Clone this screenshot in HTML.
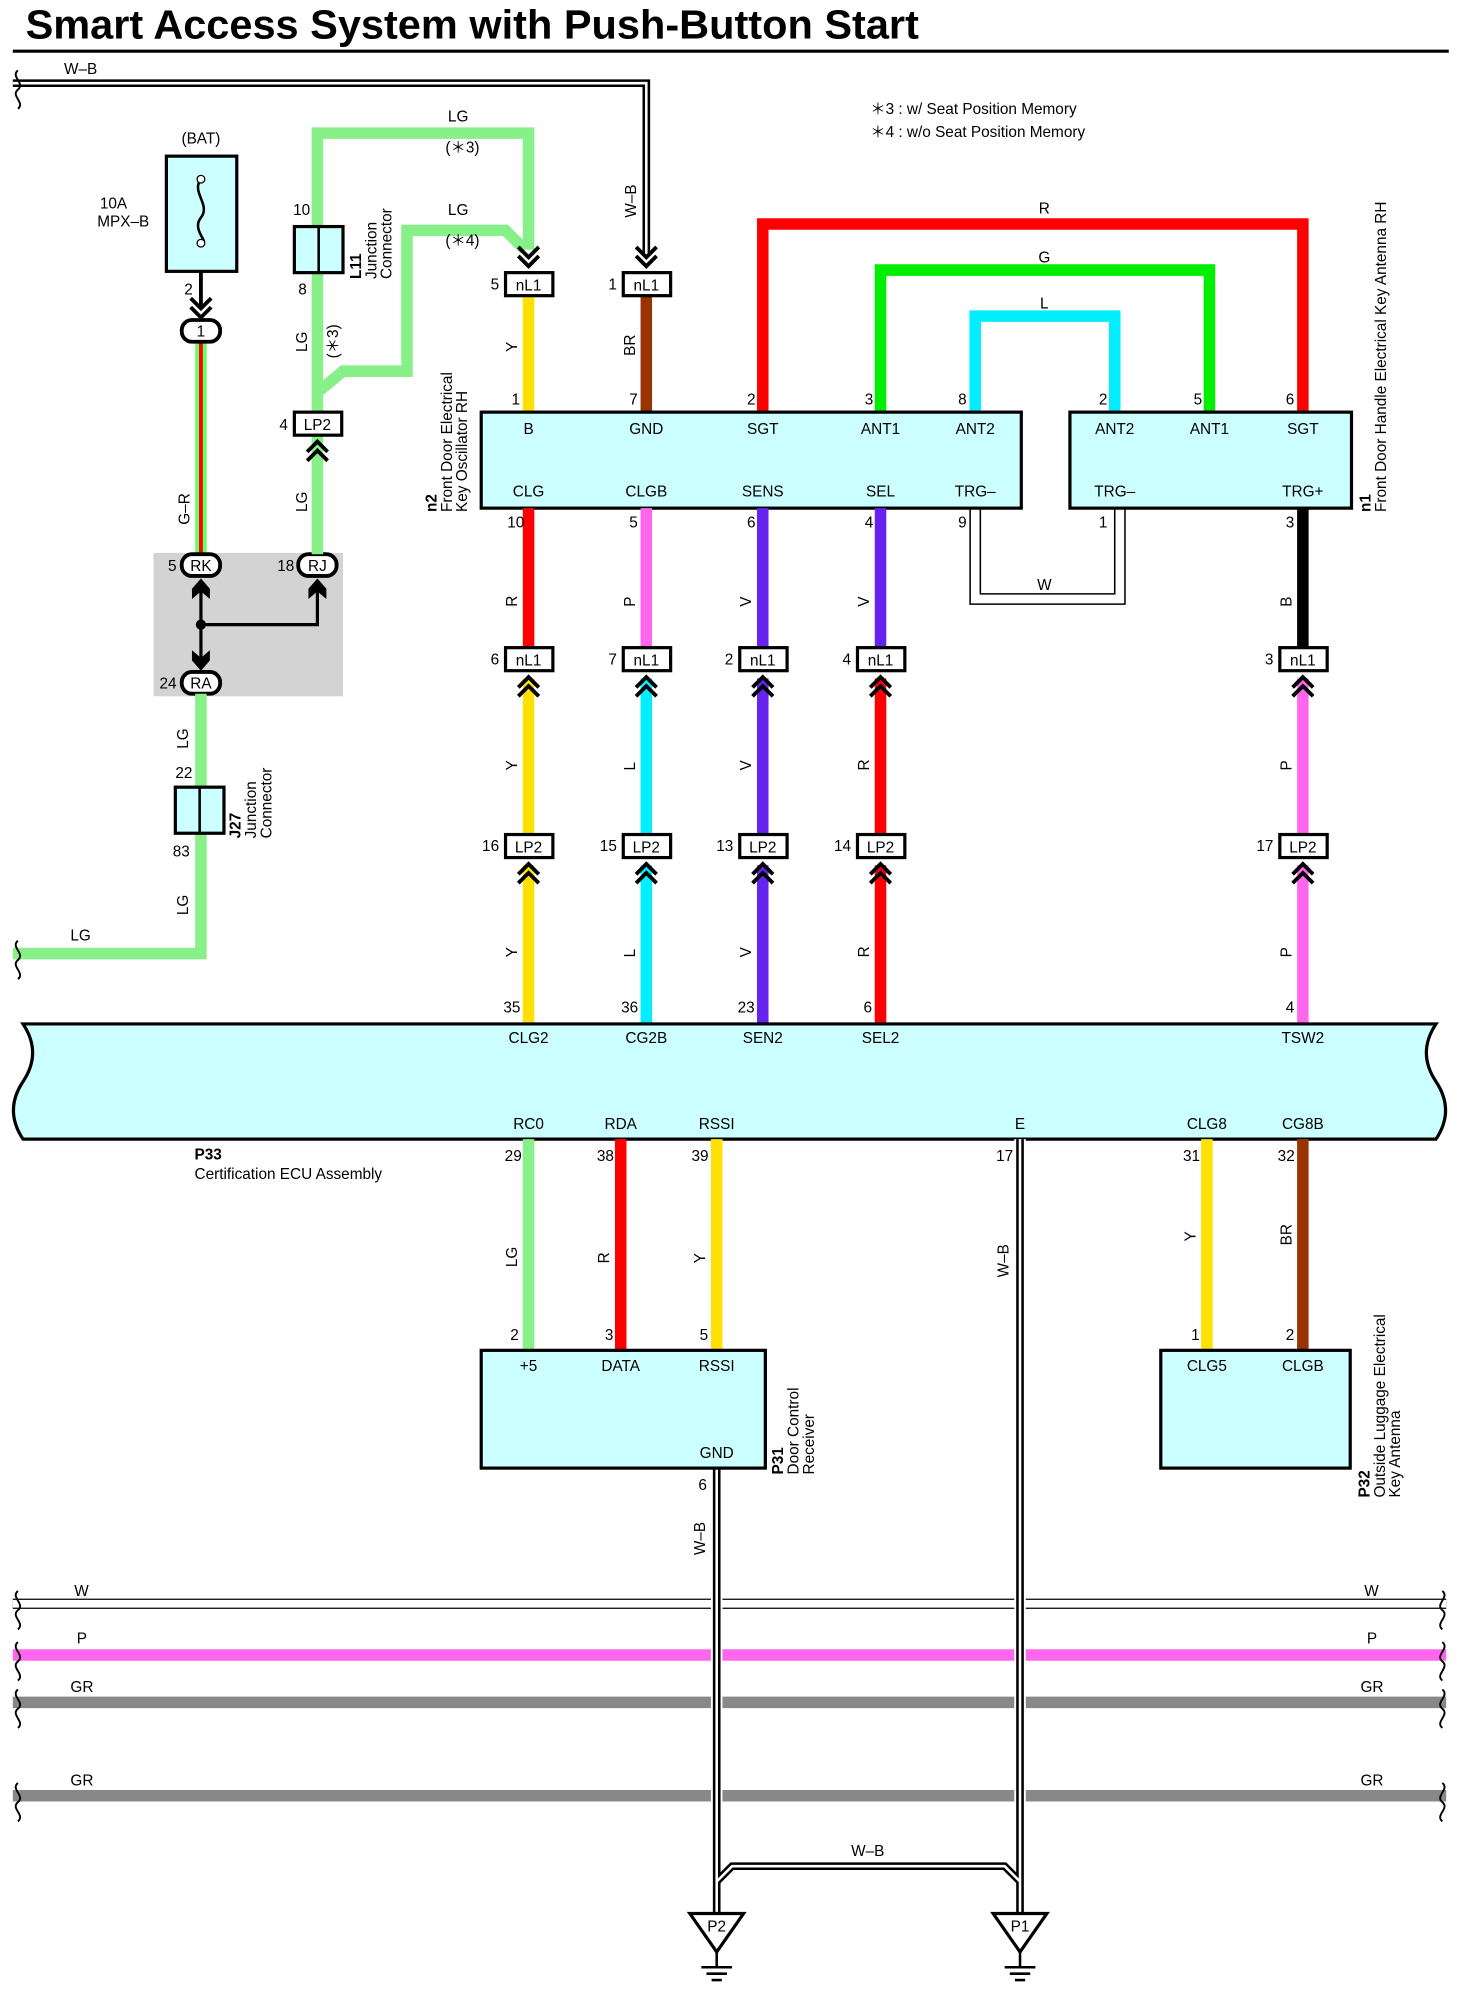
<!DOCTYPE html>
<html><head><meta charset="utf-8"><style>
html,body{margin:0;padding:0;background:#fff}
svg{display:block}
text{font-family:"Liberation Sans",sans-serif;font-size:12px;fill:#000}
.c{text-anchor:middle}
.r{text-anchor:end}
</style></head><body>
<svg width="1459" height="1998" viewBox="0 0 1140 1561" preserveAspectRatio="none" xmlns="http://www.w3.org/2000/svg">
<defs>
<g id="chev"><polyline points="-8,8 0,0 8,8" fill="none" stroke="#000" stroke-width="3"/><polyline points="-8,15 0,7 8,15" fill="none" stroke="#000" stroke-width="3"/></g>
<g id="chevd"><polyline points="-8,-8 0,0 8,-8" fill="none" stroke="#000" stroke-width="3"/><polyline points="-8,-15 0,-7 8,-15" fill="none" stroke="#000" stroke-width="3"/></g>
<g id="gnd"><polygon points="-21,0 21,0 0,30" fill="#fff" stroke="#000" stroke-width="2.5"/><line x1="0" y1="30" x2="0" y2="42" stroke="#000" stroke-width="2"/><line x1="-12" y1="42" x2="12" y2="42" stroke="#000" stroke-width="2"/><line x1="-8" y1="47" x2="8" y2="47" stroke="#000" stroke-width="2"/><line x1="-4" y1="52" x2="4" y2="52" stroke="#000" stroke-width="2"/></g>
</defs>
<text x="20" y="30" textLength="698" lengthAdjust="spacingAndGlyphs" style="font-size:32px;font-weight:bold">Smart Access System with Push-Button Start</text>
<line x1="10" y1="40" x2="1132" y2="40" stroke="#000" stroke-width="2.5"/>
<text x="680" y="89">＊3 : w/ Seat Position Memory</text>
<text x="680" y="107">＊4 : w/o Seat Position Memory</text>

<path d="M10,65 H505 V200" fill="none" stroke="#000" stroke-width="6"/>
<path d="M10,65 H505 V200" fill="none" stroke="#fff" stroke-width="2"/>
<text x="50" y="58">W–B</text>
<use href="#chevd" x="505" y="208"/>
<text x="497" y="170" transform="rotate(-90 497 170)">W–B</text>

<rect x="130" y="122" width="55" height="90" fill="#ccffff" stroke="#000" stroke-width="2.5"/>
<path d="M157,140 c-8,10 8,20 0,30 c-8,10 8,20 0,20" fill="none" stroke="#000" stroke-width="2"/>
<circle cx="157" cy="140" r="3" fill="#fff" stroke="#000"/><circle cx="157" cy="190" r="3" fill="#fff" stroke="#000"/>
<text x="157" y="112" class="c">(BAT)</text>
<text x="78" y="163">10A</text><text x="76" y="177">MPX–B</text>
<text x="144" y="230">2</text>
<line x1="157" y1="212" x2="157" y2="240" stroke="#000" stroke-width="3"/>
<use href="#chevd" x="157" y="248"/>
<line x1="157" y1="266" x2="157" y2="435" stroke="#6f6" stroke-width="9"/>
<line x1="157" y1="266" x2="157" y2="435" stroke="#f00" stroke-width="3"/>
<rect x="142" y="250" width="30" height="17" rx="8" fill="#fff" stroke="#000" stroke-width="3"/><text x="157" y="263" class="c">1</text>
<text x="148" y="410" transform="rotate(-90 148 410)">G–R</text>

<rect x="120" y="432" width="148" height="112" fill="#d3d3d3"/>
<line x1="157" y1="455" x2="157" y2="520" stroke="#000" stroke-width="2.5"/>
<polyline points="157,488 248,488 248,455" fill="none" stroke="#000" stroke-width="2.5"/>
<circle cx="157" cy="488" r="4" fill="#000"/>
<polygon points="150,460 157,452 164,460 164,468 157,462 150,468" fill="#000"/>
<polygon points="241,460 248,452 255,460 255,468 248,462 241,468" fill="#000"/>
<polygon points="150,508 157,514 164,508 164,516 157,524 150,516" fill="#000"/>
<rect x="142" y="433" width="30" height="17" rx="8" fill="#fff" stroke="#000" stroke-width="3"/><text x="157" y="446" class="c">RK</text>
<rect x="233" y="433" width="30" height="17" rx="8" fill="#fff" stroke="#000" stroke-width="3"/><text x="248" y="446" class="c">RJ</text>
<rect x="142" y="525" width="30" height="17" rx="8" fill="#fff" stroke="#000" stroke-width="3"/><text x="157" y="538" class="c">RA</text>
<text x="138" y="446" class="r">5</text><text x="230" y="446" class="r">18</text><text x="138" y="538" class="r">24</text>

<path d="M157,542 V745 H10" fill="none" stroke="#88f088" stroke-width="9"/>
<text x="147" y="585" transform="rotate(-90 147 585)">LG</text>
<text x="147" y="715" transform="rotate(-90 147 715)">LG</text>
<text x="55" y="735">LG</text>
<rect x="137" y="615" width="38" height="36" fill="#ccffff" stroke="#000" stroke-width="2.5"/><line x1="156" y1="615" x2="156" y2="651" stroke="#000" stroke-width="2"/>
<text x="137" y="608">22</text><text x="135" y="669">83</text>
<text x="188" y="655" transform="rotate(-90 188 655)" style="font-weight:bold">J27</text>
<text x="200" y="655" transform="rotate(-90 200 655)">Junction</text>
<text x="212" y="655" transform="rotate(-90 212 655)">Connector</text>

<path d="M248,433 V104 H413 V195" fill="none" stroke="#88f088" stroke-width="9"/>
<path d="M250,305 L268,290 H318 V180 H395 L410,195" fill="none" stroke="#88f088" stroke-width="9"/>
<use href="#chevd" x="413" y="208"/>
<text x="350" y="95">LG</text><text x="348" y="119">(＊3)</text>
<text x="350" y="168">LG</text><text x="348" y="192">(＊4)</text>
<text x="240" y="275" transform="rotate(-90 240 275)">LG</text>
<text x="264" y="280" transform="rotate(-90 264 280)">(＊3)</text>
<text x="240" y="400" transform="rotate(-90 240 400)">LG</text>
<rect x="230" y="177" width="38" height="36" fill="#ccffff" stroke="#000" stroke-width="2.5"/><line x1="249" y1="177" x2="249" y2="213" stroke="#000" stroke-width="2"/>
<text x="229" y="168">10</text><text x="233" y="230">8</text>
<text x="282" y="218" transform="rotate(-90 282 218)" style="font-weight:bold">L11</text>
<text x="294" y="218" transform="rotate(-90 294 218)">Junction</text>
<text x="306" y="218" transform="rotate(-90 306 218)">Connector</text>
<rect x="230" y="322" width="37" height="18" fill="#fff" stroke="#000" stroke-width="2.5"/><text x="248" y="336" class="c">LP2</text>
<text x="225" y="336" class="r">4</text>
<use href="#chev" x="248" y="345"/>

<line x1="413" y1="231" x2="413" y2="322" stroke="#ffe000" stroke-width="9"/>
<line x1="505" y1="231" x2="505" y2="322" stroke="#993300" stroke-width="9"/>
<path d="M596,322 V175 H1018 V322" fill="none" stroke="#f00" stroke-width="9"/>
<path d="M688,322 V211 H945 V322" fill="none" stroke="#0e0" stroke-width="9"/>
<path d="M762,322 V247 H871 V322" fill="none" stroke="#0ef" stroke-width="9"/>
<text x="816" y="167" class="c">R</text><text x="816" y="205" class="c">G</text><text x="816" y="241" class="c">L</text>
<text x="404" y="275" transform="rotate(-90 404 275)">Y</text>
<text x="496" y="278" transform="rotate(-90 496 278)">BR</text>
<rect x="395" y="213" width="37" height="18" fill="#fff" stroke="#000" stroke-width="2.5"/><text x="413" y="227" class="c">nL1</text>
<rect x="487" y="213" width="37" height="18" fill="#fff" stroke="#000" stroke-width="2.5"/><text x="505" y="227" class="c">nL1</text>
<text x="390" y="226" class="r">5</text><text x="482" y="226" class="r">1</text>
<text x="403" y="316" class="c">1</text><text x="495" y="316" class="c">7</text><text x="587" y="316" class="c">2</text><text x="679" y="316" class="c">3</text><text x="752" y="316" class="c">8</text>
<text x="862" y="316" class="c">2</text><text x="936" y="316" class="c">5</text><text x="1008" y="316" class="c">6</text>

<path d="M758,397 V472 H879 V397" fill="none" stroke="#000" stroke-width="1.2"/>
<path d="M766,397 V464 H871 V397" fill="none" stroke="#000" stroke-width="1.2"/>
<text x="816" y="461" class="c">W</text>
<text x="752" y="412" class="c">9</text><text x="862" y="412" class="c">1</text>

<rect x="376" y="322" width="422" height="75" fill="#ccffff" stroke="#000" stroke-width="2.5"/>
<rect x="836" y="322" width="220" height="75" fill="#ccffff" stroke="#000" stroke-width="2.5"/>
<text x="413" y="339" class="c">B</text><text x="505" y="339" class="c">GND</text><text x="596" y="339" class="c">SGT</text><text x="688" y="339" class="c">ANT1</text><text x="762" y="339" class="c">ANT2</text>
<text x="413" y="388" class="c">CLG</text><text x="505" y="388" class="c">CLGB</text><text x="596" y="388" class="c">SENS</text><text x="688" y="388" class="c">SEL</text><text x="762" y="388" class="c">TRG–</text>
<text x="871" y="339" class="c">ANT2</text><text x="945" y="339" class="c">ANT1</text><text x="1018" y="339" class="c">SGT</text>
<text x="871" y="388" class="c">TRG–</text><text x="1018" y="388" class="c">TRG+</text>
<text x="341" y="400" transform="rotate(-90 341 400)" style="font-weight:bold">n2</text>
<text x="353" y="400" transform="rotate(-90 353 400)">Front Door Electrical</text>
<text x="365" y="400" transform="rotate(-90 365 400)">Key Oscillator RH</text>
<text x="1071" y="400" transform="rotate(-90 1071 400)" style="font-weight:bold">n1</text>
<text x="1083" y="400" transform="rotate(-90 1083 400)">Front Door Handle Electrical Key Antenna RH</text>

<line x1="413" y1="397" x2="413" y2="506" stroke="#f00" stroke-width="9"/>
<line x1="505" y1="397" x2="505" y2="506" stroke="#f6e" stroke-width="9"/>
<line x1="596" y1="397" x2="596" y2="506" stroke="#6622ee" stroke-width="9"/>
<line x1="688" y1="397" x2="688" y2="506" stroke="#6622ee" stroke-width="9"/>
<line x1="1018" y1="397" x2="1018" y2="506" stroke="#000" stroke-width="9"/>
<text x="403" y="412" class="c">10</text><text x="495" y="412" class="c">5</text><text x="587" y="412" class="c">6</text><text x="679" y="412" class="c">4</text><text x="1008" y="412" class="c">3</text>
<text x="404" y="474" transform="rotate(-90 404 474)">R</text><text x="496" y="474" transform="rotate(-90 496 474)">P</text>
<text x="587" y="474" transform="rotate(-90 587 474)">V</text><text x="679" y="474" transform="rotate(-90 679 474)">V</text>
<text x="1009" y="474" transform="rotate(-90 1009 474)">B</text>

<line x1="413" y1="530" x2="413" y2="652" stroke="#ffe000" stroke-width="9"/>
<line x1="505" y1="530" x2="505" y2="652" stroke="#0ef" stroke-width="9"/>
<line x1="596" y1="530" x2="596" y2="652" stroke="#6622ee" stroke-width="9"/>
<line x1="688" y1="530" x2="688" y2="652" stroke="#f00" stroke-width="9"/>
<line x1="1018" y1="530" x2="1018" y2="652" stroke="#f6e" stroke-width="9"/>
<line x1="413" y1="676" x2="413" y2="800" stroke="#ffe000" stroke-width="9"/>
<line x1="505" y1="676" x2="505" y2="800" stroke="#0ef" stroke-width="9"/>
<line x1="596" y1="676" x2="596" y2="800" stroke="#6622ee" stroke-width="9"/>
<line x1="688" y1="676" x2="688" y2="800" stroke="#f00" stroke-width="9"/>
<line x1="1018" y1="676" x2="1018" y2="800" stroke="#f6e" stroke-width="9"/>
<text x="404" y="602" transform="rotate(-90 404 602)">Y</text><text x="496" y="602" transform="rotate(-90 496 602)">L</text>
<text x="587" y="602" transform="rotate(-90 587 602)">V</text><text x="679" y="602" transform="rotate(-90 679 602)">R</text><text x="1009" y="602" transform="rotate(-90 1009 602)">P</text>
<text x="404" y="748" transform="rotate(-90 404 748)">Y</text><text x="496" y="748" transform="rotate(-90 496 748)">L</text>
<text x="587" y="748" transform="rotate(-90 587 748)">V</text><text x="679" y="748" transform="rotate(-90 679 748)">R</text><text x="1009" y="748" transform="rotate(-90 1009 748)">P</text>

<rect x="395" y="506" width="37" height="18" fill="#fff" stroke="#000" stroke-width="2.5"/><text x="413" y="520" class="c">nL1</text>
<rect x="487" y="506" width="37" height="18" fill="#fff" stroke="#000" stroke-width="2.5"/><text x="505" y="520" class="c">nL1</text>
<rect x="578" y="506" width="37" height="18" fill="#fff" stroke="#000" stroke-width="2.5"/><text x="596" y="520" class="c">nL1</text>
<rect x="670" y="506" width="37" height="18" fill="#fff" stroke="#000" stroke-width="2.5"/><text x="688" y="520" class="c">nL1</text>
<rect x="1000" y="506" width="37" height="18" fill="#fff" stroke="#000" stroke-width="2.5"/><text x="1018" y="520" class="c">nL1</text>
<text x="390" y="519" class="r">6</text><text x="482" y="519" class="r">7</text><text x="573" y="519" class="r">2</text><text x="665" y="519" class="r">4</text><text x="995" y="519" class="r">3</text>
<use href="#chev" x="413" y="529"/><use href="#chev" x="505" y="529"/><use href="#chev" x="596" y="529"/><use href="#chev" x="688" y="529"/><use href="#chev" x="1018" y="529"/>
<rect x="395" y="652" width="37" height="18" fill="#fff" stroke="#000" stroke-width="2.5"/><text x="413" y="666" class="c">LP2</text>
<rect x="487" y="652" width="37" height="18" fill="#fff" stroke="#000" stroke-width="2.5"/><text x="505" y="666" class="c">LP2</text>
<rect x="578" y="652" width="37" height="18" fill="#fff" stroke="#000" stroke-width="2.5"/><text x="596" y="666" class="c">LP2</text>
<rect x="670" y="652" width="37" height="18" fill="#fff" stroke="#000" stroke-width="2.5"/><text x="688" y="666" class="c">LP2</text>
<rect x="1000" y="652" width="37" height="18" fill="#fff" stroke="#000" stroke-width="2.5"/><text x="1018" y="666" class="c">LP2</text>
<text x="390" y="665" class="r">16</text><text x="482" y="665" class="r">15</text><text x="573" y="665" class="r">13</text><text x="665" y="665" class="r">14</text><text x="995" y="665" class="r">17</text>
<use href="#chev" x="413" y="675"/><use href="#chev" x="505" y="675"/><use href="#chev" x="596" y="675"/><use href="#chev" x="688" y="675"/><use href="#chev" x="1018" y="675"/>
<text x="400" y="791" class="c">35</text><text x="492" y="791" class="c">36</text><text x="583" y="791" class="c">23</text><text x="678" y="791" class="c">6</text><text x="1008" y="791" class="c">4</text>

<path d="M18,800 H1122 C1112,815 1112,830 1122,845 C1132,860 1132,875 1122,890 H18 C8,875 8,860 18,845 C28,830 28,815 18,800 Z" fill="#ccffff" stroke="#000" stroke-width="2.5"/>
<text x="413" y="815" class="c">CLG2</text><text x="505" y="815" class="c">CG2B</text><text x="596" y="815" class="c">SEN2</text><text x="688" y="815" class="c">SEL2</text><text x="1018" y="815" class="c">TSW2</text>
<text x="413" y="882" class="c">RC0</text><text x="485" y="882" class="c">RDA</text><text x="560" y="882" class="c">RSSI</text><text x="797" y="882" class="c">E</text><text x="943" y="882" class="c">CLG8</text><text x="1018" y="882" class="c">CG8B</text>
<text x="152" y="906" style="font-weight:bold">P33</text><text x="152" y="921">Certification ECU Assembly</text>
<text x="401" y="907" class="c">29</text><text x="473" y="907" class="c">38</text><text x="547" y="907" class="c">39</text><text x="785" y="907" class="c">17</text><text x="931" y="907" class="c">31</text><text x="1005" y="907" class="c">32</text>

<line x1="413" y1="890" x2="413" y2="1055" stroke="#88f088" stroke-width="9"/>
<line x1="485" y1="890" x2="485" y2="1055" stroke="#f00" stroke-width="9"/>
<line x1="560" y1="890" x2="560" y2="1055" stroke="#ffe000" stroke-width="9"/>
<line x1="943" y1="890" x2="943" y2="1055" stroke="#ffe000" stroke-width="9"/>
<line x1="1018" y1="890" x2="1018" y2="1055" stroke="#993300" stroke-width="9"/>
<text x="404" y="990" transform="rotate(-90 404 990)">LG</text><text x="476" y="987" transform="rotate(-90 476 987)">R</text>
<text x="551" y="987" transform="rotate(-90 551 987)">Y</text><text x="934" y="970" transform="rotate(-90 934 970)">Y</text>
<text x="1009" y="973" transform="rotate(-90 1009 973)">BR</text>
<text x="402" y="1047" class="c">2</text><text x="476" y="1047" class="c">3</text><text x="550" y="1047" class="c">5</text><text x="934" y="1047" class="c">1</text><text x="1008" y="1047" class="c">2</text>

<line x1="10" y1="1253" x2="1130" y2="1253" stroke="#000" stroke-width="8"/>
<line x1="10" y1="1253" x2="1130" y2="1253" stroke="#fff" stroke-width="6"/>
<line x1="10" y1="1293" x2="1130" y2="1293" stroke="#f6e" stroke-width="9"/>
<line x1="10" y1="1330" x2="1130" y2="1330" stroke="#888" stroke-width="9"/>
<line x1="10" y1="1403" x2="1130" y2="1403" stroke="#888" stroke-width="9"/>
<text x="58" y="1247">W</text><text x="1066" y="1247">W</text>
<text x="60" y="1284">P</text><text x="1068" y="1284">P</text>
<text x="55" y="1322">GR</text><text x="1063" y="1322">GR</text>
<text x="55" y="1395">GR</text><text x="1063" y="1395">GR</text>

<path d="M560,1147 V1495 M797,890 V1495 M560,1470 L572,1458 H785 L797,1470" fill="none" stroke="#fff" stroke-width="9"/>
<path d="M560,1147 V1495 M797,890 V1495 M560,1470 L572,1458 H785 L797,1470" fill="none" stroke="#000" stroke-width="6"/>
<path d="M560,1147 V1495 M797,890 V1495 M560,1470 L572,1458 H785 L797,1470" fill="none" stroke="#fff" stroke-width="2"/>
<text x="551" y="1215" transform="rotate(-90 551 1215)">W–B</text>
<text x="788" y="998" transform="rotate(-90 788 998)">W–B</text>
<text x="678" y="1450" class="c">W–B</text>
<text x="549" y="1164" class="c">6</text>

<rect x="376" y="1055" width="222" height="92" fill="#ccffff" stroke="#000" stroke-width="2.5"/>
<text x="413" y="1071" class="c">+5</text><text x="485" y="1071" class="c">DATA</text><text x="560" y="1071" class="c">RSSI</text><text x="560" y="1139" class="c">GND</text>
<text x="612" y="1152" transform="rotate(-90 612 1152)" style="font-weight:bold">P31</text>
<text x="624" y="1152" transform="rotate(-90 624 1152)">Door Control</text>
<text x="636" y="1152" transform="rotate(-90 636 1152)">Receiver</text>
<rect x="907" y="1055" width="148" height="92" fill="#ccffff" stroke="#000" stroke-width="2.5"/>
<text x="943" y="1071" class="c">CLG5</text><text x="1018" y="1071" class="c">CLGB</text>
<text x="1070" y="1170" transform="rotate(-90 1070 1170)" style="font-weight:bold">P32</text>
<text x="1082" y="1170" transform="rotate(-90 1082 1170)">Outside Luggage Electrical</text>
<text x="1094" y="1170" transform="rotate(-90 1094 1170)">Key Antenna</text>

<use href="#gnd" x="560" y="1495"/><text x="560" y="1509" class="c">P2</text>
<use href="#gnd" x="797" y="1495"/><text x="797" y="1509" class="c">P1</text>

<g fill="none" stroke="#000" stroke-width="1.5">
<path d="M14,55 c-6,5 6,10 0,15 c-6,5 6,10 0,15"/>
<path d="M14,735 c-6,5 6,10 0,15 c-6,5 6,10 0,15"/>
<path d="M14,1243 c-6,5 6,10 0,15 c-6,5 6,10 0,15"/><path d="M1127,1243 c6,5 -6,10 0,15 c6,5 -6,10 0,15"/>
<path d="M14,1283 c-6,5 6,10 0,15 c-6,5 6,10 0,15"/><path d="M1127,1283 c6,5 -6,10 0,15 c6,5 -6,10 0,15"/>
<path d="M14,1320 c-6,5 6,10 0,15 c-6,5 6,10 0,15"/><path d="M1127,1320 c6,5 -6,10 0,15 c6,5 -6,10 0,15"/>
<path d="M14,1393 c-6,5 6,10 0,15 c-6,5 6,10 0,15"/><path d="M1127,1393 c6,5 -6,10 0,15 c6,5 -6,10 0,15"/>
</g>
</svg>
</body></html>
